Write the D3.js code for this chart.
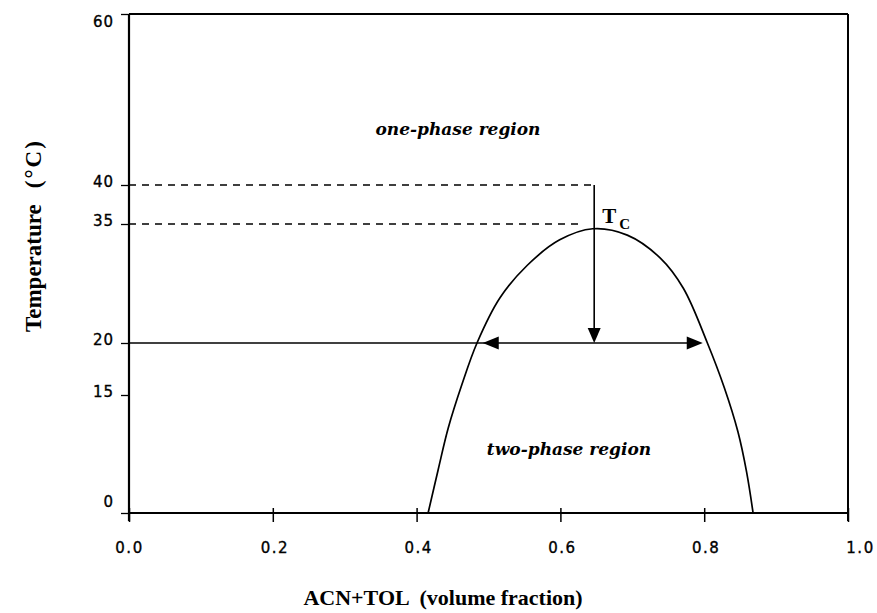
<!DOCTYPE html>
<html>
<head>
<meta charset="utf-8">
<script src="https://cdn.jsdelivr.net/npm/d3@7"></script>
<style>
  body { margin: 0; background: #fff; }
  svg { display: block; }
</style>
</head>
<body>
<svg id="chart" width="877" height="613"></svg>
<script>
// Axis ticks
const xTicks = [0, 0.2, 0.4, 0.6, 0.8, 1.0];
const yTicks = [0, 15, 20, 35, 40, 60];

// Coexistence (binodal) curve: volume fraction vs temperature (°C)
const curveFraction = [0.416, 0.430, 0.444, 0.463, 0.484, 0.516, 0.554, 0.599, 0.645, 0.693, 0.739, 0.771, 0.804, 0.828, 0.847, 0.859, 0.868];
const curveTemp     = [0,     5.5,   10.8,  16.0,  20.0,  25.7,  29.8,  33.0,  34.4,  33.6,  30.7,  26.9,  20.1,  15.7,  10.3,  5.2,   0];

// Quench path and phase split
const criticalFraction = 0.647;
const criticalTemp = 35;
const quenchStart = 40;
const quenchEnd = 20;
const splitLeft = 0.492;
const splitRight = 0.798;
const tcGuideEnd = 0.630;

const svg = d3.select("#chart");

const x = d3.scaleLinear().domain([0, 1]).range([129, 848]);
// the temperature axis of this diagram is spaced piecewise between its ticks
const y = d3.scaleLinear().domain(yTicks).range([513, 395, 343, 224, 185, 14]);

const ink = "#000";

// frame: top and right edges
svg.append("line").attr("x1", x(0)).attr("x2", x(1)).attr("y1", y(60)).attr("y2", y(60))
  .attr("stroke", ink).attr("stroke-width", 2);
svg.append("line").attr("x1", x(1)).attr("x2", x(1)).attr("y1", y(60)).attr("y2", y(0) + 8)
  .attr("stroke", ink).attr("stroke-width", 2);

// y axis
const yAxis = svg.append("g")
  .attr("transform", `translate(${x(0)},0)`)
  .call(d3.axisLeft(y).tickValues(yTicks).tickSize(8).tickPadding(7).tickFormat(d3.format("d")));
yAxis.select(".domain").attr("d", `M0,${y(60)}V${y(0) + 8}`).attr("stroke", ink).attr("stroke-width", 2.2);
yAxis.selectAll(".tick line").attr("stroke", ink).attr("stroke-width", 1.3);
yAxis.selectAll(".tick text")
  .attr("font-family", "DejaVu Sans, sans-serif")
  .attr("font-size", 15)
  .attr("letter-spacing", 1)
  .attr("fill", ink)
  .attr("stroke", ink).attr("stroke-width", 0.35)
  .attr("dy", d => d === 0 ? "-0.45em" : d === 60 ? "0.85em" : "0.1em");

// x axis
const xAxis = svg.append("g")
  .attr("transform", `translate(0,${y(0)})`)
  .call(d3.axisBottom(x).tickValues(xTicks).tickSize(9).tickPadding(20).tickFormat(d3.format(".1f")));
xAxis.select(".domain").attr("d", `M${x(0)},0H${x(1)}`).attr("stroke", ink).attr("stroke-width", 2);
xAxis.selectAll(".tick line").attr("y1", -5).attr("stroke", ink).attr("stroke-width", 1.5);
xAxis.selectAll(".tick text")
  .attr("font-family", "DejaVu Sans, sans-serif")
  .attr("font-size", 15)
  .attr("letter-spacing", 1.5)
  .attr("fill", ink)
  .attr("stroke", ink).attr("stroke-width", 0.35)
  .attr("dx", d => d === 0 ? "0" : d === 1 ? "0.8em" : "0.1em");

// dashed guides at the quench start and the critical temperature
svg.append("line")
  .attr("x1", x(0)).attr("x2", x(criticalFraction))
  .attr("y1", y(quenchStart)).attr("y2", y(quenchStart))
  .attr("stroke", ink).attr("stroke-width", 1.6).attr("stroke-dasharray", "7,6");
svg.append("line")
  .attr("x1", x(0)).attr("x2", x(tcGuideEnd))
  .attr("y1", y(criticalTemp)).attr("y2", y(criticalTemp))
  .attr("stroke", ink).attr("stroke-width", 1.6).attr("stroke-dasharray", "7,6");

// solid line at the quench temperature
svg.append("line")
  .attr("x1", x(0)).attr("x2", x(splitRight) - 4)
  .attr("y1", y(quenchEnd)).attr("y2", y(quenchEnd))
  .attr("stroke", ink).attr("stroke-width", 1.6);

// coexistence curve
const pts = curveFraction.map((f, i) => [f, curveTemp[i]]);
svg.append("path")
  .datum(pts)
  .attr("fill", "none")
  .attr("stroke", ink)
  .attr("stroke-width", 1.7)
  .attr("d", d3.line().x(d => x(d[0])).y(d => y(d[1])).curve(d3.curveCatmullRom.alpha(0.5)));

// vertical quench arrow
svg.append("line")
  .attr("x1", x(criticalFraction)).attr("x2", x(criticalFraction))
  .attr("y1", y(quenchStart)).attr("y2", y(quenchEnd) - 6)
  .attr("stroke", ink).attr("stroke-width", 1.6);

function arrowHead(tx, ty, dx, dy, len, half) {
  // tip at (tx,ty); arrow points along (dx,dy)
  const bx = tx - dx * len, by = ty - dy * len;
  const px = -dy * half, py = dx * half;
  svg.append("path")
    .attr("d", `M${tx},${ty}L${bx + px},${by + py}L${bx - px},${by - py}Z`)
    .attr("fill", ink);
}
arrowHead(x(criticalFraction), y(quenchEnd), 0, 1, 15, 6.5);
arrowHead(x(splitLeft), y(quenchEnd), -1, 0, 16, 6.5);
arrowHead(x(splitRight), y(quenchEnd), 1, 0, 16, 6.5);

// critical point label
const tc = svg.append("text")
  .attr("x", x(criticalFraction) + 8)
  .attr("y", y(criticalTemp) - 1)
  .attr("font-family", "Liberation Serif, serif")
  .attr("font-weight", "bold")
  .attr("font-size", 21)
  .attr("fill", ink);
tc.append("tspan").text("T");
tc.append("tspan").attr("dx", 3).attr("dy", 6).attr("font-size", 15).text("C");

// region labels
svg.append("text")
  .attr("x", 458).attr("y", y(40) - 50)
  .attr("text-anchor", "middle")
  .attr("font-family", "DejaVu Serif, serif")
  .attr("font-weight", "bold").attr("font-style", "italic")
  .attr("font-size", 17)
  .attr("fill", ink)
  .text("one-phase region");
svg.append("text")
  .attr("x", 569).attr("y", y(8) + 5)
  .attr("text-anchor", "middle")
  .attr("font-family", "DejaVu Serif, serif")
  .attr("font-weight", "bold").attr("font-style", "italic")
  .attr("font-size", 17)
  .attr("fill", ink)
  .text("two-phase region");

// axis titles
svg.append("text")
  .attr("x", 443).attr("y", 605)
  .attr("text-anchor", "middle")
  .attr("font-family", "Liberation Serif, serif")
  .attr("font-weight", "bold")
  .attr("font-size", 22)
  .attr("fill", ink)
  .attr("xml:space", "preserve")
  .text("ACN+TOL  (volume fraction)");
const yTitle = svg.append("text")
  .attr("transform", "translate(41,332) rotate(-90)")
  .attr("text-anchor", "start")
  .attr("font-family", "Liberation Serif, serif")
  .attr("font-weight", "bold")
  .attr("font-size", 23)
  .attr("fill", ink);
yTitle.append("tspan").text("Temperature");
yTitle.append("tspan").attr("dx", 16).attr("letter-spacing", 2).text("(°C)");
</script>
</body>
</html>
